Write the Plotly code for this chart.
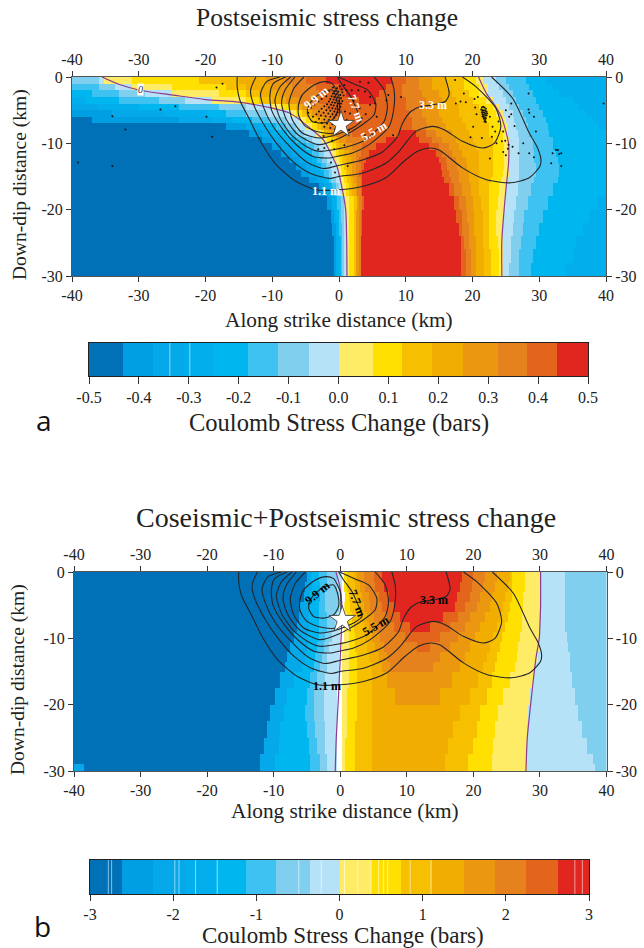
import numpy as np
import plotly.graph_objects as go

W, H = 644, 948
SERIF = "Liberation Serif"

BAND_COLORS = ["#0071b7", "#009fe3", "#05a8e8", "#02aeeb", "#00b6ef", "#3dc2f2", "#80cfef", "#b5e2f7",
               "#ffec66", "#ffe000", "#f6bf00", "#f1ad00", "#eb970f", "#e6821e", "#e3641b", "#e1261f"]
CBAR_A_EDGES = [-0.5, -0.431, -0.371, -0.31, -0.25, -0.181, -0.121, -0.06, 0.0, 0.07, 0.128, 0.188, 0.25, 0.32, 0.378, 0.438, 0.5]
CBAR_B_EDGES = [-3, -2.62, -2.245, -1.86, -1.48, -1.12, -0.76, -0.36, 0, 0.38, 0.745, 1.115, 1.5, 1.875, 2.245, 2.63, 3]
CBAR_A_TICKS = [-0.5, -0.4, -0.3, -0.2, -0.1, 0.0, 0.1, 0.2, 0.3, 0.4, 0.5]
CBAR_A_LABELS = ["-0.5", "-0.4", "-0.3", "-0.2", "-0.1", "0.0", "0.1", "0.2", "0.3", "0.4", "0.5"]
CBAR_B_TICKS = [-3, -2, -1, 0, 1, 2, 3]
CBAR_B_LABELS = ["-3", "-2", "-1", "0", "1", "2", "3"]
CBAR_A_STREAKS = [-0.338, -0.298]
CBAR_B_STREAKS = [-2.78, -2.74, -1.98, -1.93, -1.73, -1.47, -0.49, -0.22, 0.06, 0.22, 0.38, 0.47, 0.53, 0.58, 0.85, 1.1, 2.83, 2.92]
X_TICKS = [-40, -30, -20, -10, 0, 10, 20, 30, 40]
X_LABELS = ["-40", "-30", "-20", "-10", "0", "10", "20", "30", "40"]
Y_TICKS = [0, 10, 20, 30]
Y_LABELS = ["0", "-10", "-20", "-30"]

# Panel a: depth rows; every row is band, x where it ends, next band, ...
A_DEPTH_EDGES = [0, 1, 2, 3, 4, 5, 6, 7, 8, 9, 10, 11, 12, 13, 14, 15, 16, 18, 20, 22, 24, 26, 28, 30]
A_ROWS = [
    [6,-36,7,-35.3,8,-31,9,-21,10,-15,11,-11,12,-8,13,-5,14,-2,15,8,14,10,13,12,12,14,11,16,10,18.7,9,20.6,8,21.6,7,23.4,6,25,5,28,4,31,3],
    [5,-36,6,-33.5,7,-31,8,-25,9,-17,10,-14,11,-10,12,-7,13,-3.5,14,0,15,7,14,9.5,13,12,12,14,11,16.3,10,18.8,9,21,8,22.2,7,24,6,25.5,5,28.5,4,32,3],
    [4,-37,5,-33,6,-29,7,-25,8,-18,9,-14,10,-12,11,-9,12,-7,13,-3,14,1,15,6,14,9.5,13,12.5,12,15,11,17,10,19.5,9,21,8,22.3,7,24.5,6,26,5,29,4,33,3],
    [3,-38,4,-33,5,-27,6,-23,7,-19,8,-14,9,-12,10,-10,11,-8,12,-6,13,-3,14,3,15,5.5,14,10,13,13,12,15.5,11,17.5,10,20,9,22,8,23,7,25,6,26.5,5,29.5,4,35,3],
    [2,-36,3,-30,4,-24,5,-18,6,-14,7,-10,8,-8.5,9,-7.5,10,-6.5,11,-5.5,12,-4.5,13,-2,14,10,13,12.5,12,15,11,18,10,21,9,23,8,24,7,25.5,6,27,5,30,4,36,3],
    [1,-34,2,-26,3,-20,4,-17,5,-14,6,-11,7,-7.5,8,-6.5,9,-5.5,10,-4.8,11,-4,12,-3.2,13,-1,14,10.5,13,12.5,12,15,11,18,10,21.5,9,23.5,8,24.5,7,26,6,27.5,5,30.5,4,37,3],
    [0,-37,1,-24,2,-19,3,-16,4,-13,5,-10.5,6,-8,7,-6,8,-5,9,-4.2,10,-3.5,11,-2.8,12,-2,13,0,14,11,13,13,12,15.5,11,18.5,10,22,9,24,8,25,7,26.3,6,28,5,31,4,38,3],
    [0,-17,1,-14,2,-12,3,-11,4,-9.5,5,-8,6,-6.5,7,-5,8,-4,9,-3.3,10,-2.8,11,-2.2,12,-1.5,13,0.5,14,11,13,13.3,12,16,11,19,10,22.5,9,24.2,8,25.2,7,26.6,6,28.3,5,31.3,4,39,3],
    [0,-13.5,1,-11.5,2,-10,3,-9,4,-7.8,5,-6.5,6,-5.2,7,-3.5,8,-2.7,9,-2.2,10,-1.7,11,-1.2,12,-0.5,13,2,14,9,15,11.5,14,13,13,14.5,12,17,11,19.5,10,22.5,9,24.4,8,25.3,7,26.8,6,28.6,5,31.6,4],
    [0,-11.5,1,-10,2,-8.7,3,-7.7,4,-6.5,5,-5,6,-4,7,-2.5,8,-1.7,9,-1.2,10,-0.6,11,0,12,1,13,4,14,7,15,12,14,14,13,15.5,12,17.5,11,20,10,23,9,24.6,8,25.4,7,27,6,29,5,32,4],
    [0,-10,1,-8.5,2,-7.3,3,-6,4,-5,5,-3.8,6,-3,7,-1.7,8,-1,9,-0.5,10,0,11,0.8,12,2,13,3.5,14,5.5,15,13.5,14,15,13,16.5,12,18,11,20.5,10,23,9,24.7,8,25.4,7,27,6,29,5,32,4],
    [0,-8.7,1,-7,2,-6,3,-5,4,-4,5,-3,6,-2.2,7,-1.2,8,-0.5,9,0,10,0.7,11,1.5,12,2.5,13,3.3,14,4.6,15,14.5,14,15.5,13,17,12,18.5,11,21,10,23,9,24.8,8,25.5,7,27,6,29.3,5,32.5,4],
    [0,-7.5,1,-6,2,-5,3,-4,4,-3.3,5,-2.5,6,-1.7,7,-0.8,8,0,9,0.5,10,1,11,1.8,12,2.5,13,3,14,4,15,15,14,16,13,17.5,12,19,11,21,10,23,9,24.8,8,25.5,7,27,6,29.3,5,32.7,4],
    [0,-6.5,1,-5,2,-4.2,3,-3.5,4,-2.7,5,-2,6,-1.2,7,-0.3,8,0.2,9,0.8,10,1.3,11,2,12,2.6,13,3.2,14,3.8,15,15.3,14,16.3,13,17.8,12,19.3,11,21,10,23,9,24.8,8,25.5,7,27,6,29.6,5,33,4],
    [0,-5.7,1,-4.4,2,-3.4,3,-2.8,4,-2.2,5,-1.6,6,-0.9,7,0,8,0.5,9,1,10,1.5,11,2.1,12,2.6,13,3.1,14,3.6,15,15.5,14,16.5,13,17.9,12,19.4,11,21,10,22.9,9,24.5,8,25.4,7,27,6,29.6,5,33,4],
    [0,-4.5,1,-3.3,2,-2.5,3,-2,4,-1.6,5,-1.2,6,-0.5,7,0.3,8,0.7,9,1.2,10,1.7,11,2.2,12,2.7,13,3.2,14,3.6,15,15.8,14,16.8,13,18,12,19.5,11,21,10,22.8,9,24.3,8,25.3,7,27,6,29.3,5,32.7,4],
    [0,-3,1,-2.2,2,-1.6,3,-1.2,4,-0.9,5,-0.5,6,0,7,0.5,8,1,9,1.5,10,2,11,2.4,12,2.8,13,3.2,14,3.6,15,16.5,14,17.3,13,18.5,12,19.8,11,21,10,22.5,9,24,8,25,7,26.8,6,28.8,5,32,4,40,3],
    [0,-1.7,1,-1.1,3,-0.6,4,-0.2,5,0.2,6,0.7,7,1,8,1.5,9,2.3,10,2.7,12,3.1,13,3.4,14,3.7,15,17.2,14,18,13,19,12,20,11,21.3,10,22.6,9,23.7,8,25,7,26.5,6,28.2,5,31.2,4,38.8,3],
    [0,-1.3,1,-0.8,3,-0.4,4,0,5,0.3,6,0.7,7,1.05,8,1.5,9,2.2,10,2.6,12,3,13,3.3,14,3.6,15,17.6,14,18.4,13,19.2,12,20.2,11,21.4,10,22.5,9,23.5,8,24.8,7,26.3,6,27.8,5,30.5,4,37.5,3],
    [0,-1,1,-0.6,3,-0.2,4,0.1,5,0.4,6,0.8,7,1.1,8,1.5,9,2.2,10,2.5,12,2.9,13,3.2,14,3.4,15,18,14,18.6,13,19.4,12,20.3,11,21.5,10,22.5,9,23.6,8,24.5,7,26,6,27.5,5,30,4,36.5,3],
    [0,-0.8,1,-0.5,3,-0.1,4,0.2,5,0.4,6,0.8,7,1.15,8,1.6,9,2.3,10,2.5,12,2.9,13,3.2,14,3.3,15,18.2,14,18.8,13,19.6,12,20.4,11,21.6,10,22.6,9,23.8,8,24.4,7,25.8,6,27.2,5,29.5,4,35.5,3],
    [0,-0.75,1,-0.4,3,0,4,0.2,5,0.5,6,0.8,7,1.2,8,1.6,9,2.3,10,2.5,12,2.9,13,3.2,14,3.3,15,18.3,14,19,13,19.7,12,20.5,11,21.7,10,22.7,9,23.9,8,24.4,7,25.7,6,27.1,5,29,4,35,3],
    [0,-0.7,1,-0.4,3,0,4,0.2,5,0.5,6,0.8,7,1.2,8,1.6,9,2.3,10,2.5,12,2.9,13,3.2,14,3.3,15,18.3,14,19,13,19.7,12,20.6,11,21.8,10,22.8,9,24,8,24.4,7,25.6,6,27,5,28.7,4,34,3],
]

# Panel b: for each depth row, the x where a band begins and where it ends (None: band absent)
B_DEPTH_EDGES = [0, 1.5, 3, 4.5, 6, 7.5, 9, 10.5, 12, 13.5, 15, 17.5, 20, 22.5, 25, 27.5, 29, 30]
B_L2 = [-4.9,-5.2,-5.6,-6,-6.3,-6.6,-7,-7.5,-7.9,-8.2,-9,-9.8,-10.4,-10.9,-11.4,-12,-12]
B_L4 = [-4.2,-4.3,-4.5,-4.6,-4.7,-4.8,-4.9,-5,-5.3,-5.7,-7,-8,-8.5,-9,-9.3,-9.7,-9.7]
B_L5 = [-3.3,-3.1,-3,-3.2,-3.2,-3.2,-3.3,-3.5,-3.7,-3.9,-4.5,-5,-5.3,-5,-4.8,-4.6,-4.6]
B_L6 = [-1.9,-2,-2.2,-2.2,-2,-2,-2.3,-2.5,-2.7,-3,-3.5,-4,-4,-3.7,-3.4,-3.1,-3.1]
B_L7 = [-.6,-.4,-.2,-.2,-.5,-.8,-1.2,-1.7,-2,-2,-2.2,-2.4,-2.4,-2.3,-2.2,-2.1,-2.1]
B_R7 = [33.75,33.75,33.75,33.75,33.75,33.75,34,34.25,34.4,34.5,34.7,35.3,35.8,36.3,37,38,38.3]
B_WHITE = [.3,.3,.3,.2,.1,0,-.1,-.1,-.2,-.2,-.3,-.4,-.4,-.4,-.4,-.4,-.4]
B_L8 = [.7,.7,.7,.6,.5,.4,.4,.35,.3,.3,.3,.25,.25,.25,.25,.25,.25]
B_R8 = [30.1,30.1,30.1,30.1,30,30,30,30,29.8,29.3,28.9,28.6,28.3,28.1,28,27.9,27.9]
B_L9 = [.5,.6,.7,.8,.9,1,1.2,1.3,1.3,1.3,1.2,1.1,1,.9,.8,.75,.75]
B_R9 = [27.8,27.7,27.6,27.5,27.3,27.2,27,26.8,26.6,26.3,25.5,24.5,23.7,23.3,23,22.7,22.7]
B_L10 = [1,1.1,1.3,1.5,1.7,1.9,2.2,2.3,2.4,2.5,2.5,2.4,2.4,2.3,2.3,2.25,2.25]
B_R10 = [25.7,25.8,25.7,25.5,25.2,24.8,24.3,24,23.6,23.2,22.8,22,21,20.5,20,19.3,19.3]
B_L11 = [2,2.2,2.5,2.8,3.1,3.4,3.7,4,4.3,4.7,4.75,4.75,4.75,4.75,4.75,4.75,4.75]
B_R11 = [25.5,25.2,24.8,24.4,24,23.5,23,22.5,22,21.5,20.8,19.5,18,17,16.3,15.8,15.8]
B_L12 = [2.5,3,3.3,3.6,4,4.3,4.7,5.2,5.7,6.2,7,8.2,None,None,None,None,None]
B_R12 = [23.5,23.2,22.8,22.4,21.8,21,20.3,19.5,18.8,18,16.8,15,None,None,None,None,None]
B_L13 = [3.5,3.8,4.2,4.6,5,5.5,6,6.5,7,7.5,None,None,None,None,None,None,None]
B_R13 = [21.7,21.4,21,20.5,19.5,18.7,17.8,16.5,15,14,None,None,None,None,None,None,None]
B_L14 = [5,5.2,5.7,6.3,7,8,9.7,11.5,None,None,None,None,None,None,None,None,None]
B_R14 = [20,19.8,19.4,18.8,17.8,16.5,15,13.5,None,None,None,None,None,None,None,None,None]
B_L15 = [6.2,6.5,7.3,8,9,10.5,None,None,None,None,None,None,None,None,None,None,None]
B_R15 = [18.2,17.9,17.6,17.2,15.5,13.5,None,None,None,None,None,None,None,None,None,None,None]
B_CORNER_X = -38.5

# Zero-stress contours (x km, depth km)
ZERO_A1 = [(-35.5,0),(-33,1.1),(-29.8,2),(-25,2.7),(-20,3.4),(-15,3.8),(-10,4.7),(-7.5,5.4),(-5.8,6.5),(-4,8),(-2.3,9.5),(-1,12),(-0.3,13.5),(0.4,16.5),(1,20),(1.15,24.6),(1.2,30)]
ZERO_A2 = [(20.9,0),(22.1,2.5),(23.5,4.5),(24.4,6.2),(25.4,10),(25.4,13),(25,17),(24.4,24.6),(24.4,30)]
ZERO_B1 = [(-0.65,0),(-0.1,2),(0.25,5),(0.2,8),(0,13),(-0.25,18.5),(-0.6,25),(-0.75,30)]
ZERO_B2 = [(30.1,0),(30.1,5),(30,8),(29.9,10),(29.4,13),(28.6,20),(28.1,25),(27.9,30)]

# Slip contours (x km, depth km)
SLIP_11 = [(-15.25,0),(-15.25,1.5),(-14.85,3.5),(-13.35,6.5),(-11.6,10),(-9.35,13.3),(-6.35,15.8),(-3.35,17),(0,17),(3.5,16.5),(7,15.2),(9.75,12.7),(11.75,11.2),(13.5,10.7),(15,11),(18.5,13.7),(22,15.45),(25.75,15.95),(28.5,15.2),(30.1,13.45),(30.25,12.45),(29.75,10.7),(28.5,8.45),(26,3.2),(22.85,0)]
SLIP_22 = [(-12.45,0),(-13.25,2),(-12.85,4),(-11.35,7),(-9.35,10),(-6.85,12.8),(-4.35,14.5),(-1.35,15.3),(0,15),(3.5,14.5),(7,13),(9,11.2),(11.5,8.2),(14,7.45),(15.75,7.95),(18.5,9.7),(21.5,10.7),(23.25,10),(24.25,7.45),(23.5,4.7),(20.5,1.45),(18.5,0)]
SLIP_33 = [(-8.85,0),(-10.85,0.7),(-11.75,2.5),(-11.25,4.7),(-9.85,7.5),(-7.35,10.5),(-4.85,12.8),(-2.35,13.8),(0,13.3),(3.5,12.5),(6.5,11.3),(8.75,9),(9.5,7),(10.75,5.2),(12.15,4.5),(14,4.2),(15.9,3.7),(16.5,2.6),(15.9,0)]
SLIP_44 = [(-8,0),(-9.85,1),(-10.35,2.7),(-10.1,5),(-8.35,8),(-6.35,10.25),(-3.85,12),(-1.35,12.2),(0,11.9),(2,11.45),(4.5,10.2),(7.5,7.45),(8.25,4.45),(8.25,1.95),(7.75,0)]
SLIP_55 = [(-7.25,0),(-8.85,1.5),(-9.6,3.5),(-8.85,6.2),(-7.1,8.75),(-4.85,10.5),(-3,11.2),(0,10.8),(1.5,10.45),(4,9.45),(6.75,6.7),(7.25,4.45),(6.75,1.95),(5.25,0)]
SLIP_66 = [(-6.6,0),(-8.1,2),(-8.6,4),(-7.85,6.5),(-6.1,8.75),(-3,10.2),(0,9.25),(1.5,8.45),(3.5,7.2),(5.25,5.7),(5.5,3.95),(4.25,1.95),(2,0.95),(-0.1,0)]
SLIP_77 = [(-5.25,0),(-6.75,1.7),(-7.5,3.95),(-7,6.45),(-5.5,8.45),(-3,9.2),(0,8.55),(2,7.7),(3.25,6.7),(2.6,4.8),(1.75,2.95),(0.5,1.2),(-0.25,0)]
SLIP_88 = [(-2.25,0.7),(-3.75,1.2),(-5.5,2.7),(-6.1,4.45),(-6,5.95),(-5,7.45),(-3,8.3),(-0.75,8.45),(0,7.5),(0.1,5),(0,3),(-1,1),(-2.25,0.7)]
SLIP_99 = [(-2.25,2.2),(-1,1.95),(-0.35,3.45),(-0.25,5.2),(-1,6.45),(-2.5,6.95),(-4,6.7),(-4.75,5.45),(-4.5,4.2),(-3.5,3),(-2.25,2.2)]
SLIP_TEXT = ["9.9 m", "7.7 m", "5.5 m", "3.3 m", "1.1 m"]
SLIP_TEXT_X = [-3.5, 2.5, 5.3, 14.1, -2.0]
SLIP_TEXT_Y = [3.1, 4.7, 8.2, 4.2, 17.2]
SLIP_TEXT_ANGLE = [-40, 70, -30, 0, 0]

# Aftershocks (x km, depth km)
SHOCKS_FAR = [(-39.1,12.9),(-33.95,13.4),(-33.95,5.9),(-32,7.9),(-26.75,4.9),(-24.5,4.4),(-19.85,6),(-19,9),(-18.35,1.6),(-17.45,1),
    (17.4,.45),(18.7,2.5),(17.5,4),(18.2,3.7),(19,3.8),(20.3,3.3),(20.8,3),(20.4,4.6),(20.6,5.6),(20.1,7.5),(19.7,9.1),(21.4,9.2),(22.6,12.3),(22.9,9),(22.6,6),(23.9,6.7),(23,7.5),(23.4,8.2),(24.6,8.2),(23.6,10),(24.4,9.7),(24.9,9.6),(25.4,10.2),(25.3,10.8),(24.6,11.3),(25,11.8),(26,10.5),(26.9,11.5),(27.6,10),(28.5,11.5),(29.2,12.1),(28.4,2.5),(25,5),(25.8,4),(25.8,5.6),(25.5,6),(26.3,7.4),(28.4,4.9),(28.5,5.4),(29.2,6),(29.5,8.2),(31.8,13),(32,11.5),(32.5,11),(32.8,11),(33.3,11.5),(33,11.6),(33.3,13.4),(39.65,4)]
SHOCKS_RIGHT_CLUSTER = [(21.4,4.6),(21.6,4.5),(21.8,4.6),(22,4.8),(21.3,4.9),(21.5,5),(21.7,5),(21.9,5.1),(22.1,5.2),(21.4,5.3),(21.6,5.3),(21.8,5.4),(22,5.5),(21.5,5.6),(21.7,5.7),(21.9,5.8),(22.1,5.8),(21.6,6),(21.8,6.1),(22,6.2),(21.7,6.3),(21.9,6.5),(21.8,6.7),(22,6.8),(21.5,5.9),(22.2,5.5)]
SHOCKS_CENTER = [(0.1,1.4),(-0.3,1.7),(0.4,1.9),(-0.6,2.1),(-0.1,2.2),(0.5,2.3),(-0.9,2.5),(-0.4,2.6),(0.2,2.7),(0.7,2.8),(-1.1,2.9),(-0.7,3),(-0.2,3.1),(0.3,3.2),(-1.3,3.3),(-0.8,3.4),(-0.4,3.5),(0,3.6),(0.5,3.6),(-1.5,3.7),(-1,3.8),(-0.6,3.9),(-0.1,4),(0.3,4),(-1.8,4.1),(-1.2,4.2),(-0.8,4.3),(-0.3,4.4),(0.2,4.5),(-2.2,4.4),(-1.5,4.6),(-1,4.7),(-0.5,4.8),(0,4.9),(-2.6,4.8),(-1.9,5),(-1.3,5.1),(-0.7,5.2),(-0.2,5.3),(-3,5.2),(-2.3,5.4),(-1.6,5.5),(-1,5.6),(-0.4,5.7),(-3.4,5.6),(-2.7,5.8),(-2,5.9),(-1.3,6),(-0.7,6.1),(-3,6.3),(-2.2,6.4),(-1.5,6.5),(-0.8,6.6),(-3.5,6.8),(-2.6,6.9),(-1.8,7),(-1,7.1),(-2.2,7.5),(-1.3,7.7),(-0.6,7.9),(-4.2,4.6),(-4.6,5.4),(-3.9,6),(-3.7,4.2),(-3.1,3.7),(-2.6,3.3),(-1.9,2.9),(-1.5,2.2),(-0.9,1.6),(0.8,1.2),(1.1,2),
    (3.15,.7),(4.4,.85),(2.9,2),(1.9,2),(3.9,2.2),(4.65,3),(5.4,4),(4.65,4.2),(5.65,6),(1.65,5.5),(0.9,5.2),(1.15,6.5),(7.4,2.7),(7.1,3.5),(9.3,3),(3.1,4.7),(2.2,3.6),(4,5.6),(3.4,6.2),(1.5,8),(3.9,8.8),(8.1,8.8),(-2.2,10.7),(-1.2,12.9),(-0.6,14.4),(1.3,13.4),(-3.1,10.9),(-2.3,8.9),(-1,9.6),(0.8,10.3),(-0.7,10.9)]
STAR_X = [0.3]
STAR_Y = [7.2]

XCELLS = np.arange(-40, 40.01, 0.25)
XMID = (XCELLS[:-1] + XCELLS[1:]) / 2


def decode_a():
    z = np.zeros((len(A_ROWS), len(XMID)))
    for r, row in enumerate(A_ROWS):
        bands, ends = row[0::2], row[1::2] + [40.01]
        start = -40.01
        for band, end in zip(bands, ends):
            z[r, (XMID >= start) & (XMID < end)] = band
            start = end
    return z


def decode_b():
    z = np.zeros((len(B_L2), len(XMID)))
    full = [40.01] * len(B_L2)
    layers = [(2, B_L2, full), (4, B_L4, full), (5, B_L5, full), (6, B_L6, full), (7, B_L7, B_R7),
              (-1, B_WHITE, B_L8), (8, B_L8, B_R8), (9, B_L9, B_R9), (10, B_L10, B_R10), (11, B_L11, B_R11),
              (12, B_L12, B_R12), (13, B_L13, B_R13), (14, B_L14, B_R14), (15, B_L15, B_R15)]
    for band, lefts, rights in layers:
        for r, (a, b) in enumerate(zip(lefts, rights)):
            if a is None:
                continue
            z[r, (XMID >= a) & (XMID < b)] = band
    z[-1, XMID < B_CORNER_X] = 2
    z[z == -1] = np.nan
    return z


n = len(BAND_COLORS)
colorscale = []
for i, c in enumerate(BAND_COLORS):
    colorscale += [[i / n, c], [(i + 1) / n, c]]

heat = dict(colorscale=colorscale, zmin=-0.5, zmax=15.5, showscale=False, hoverinfo="skip")
fig = go.Figure()
fig.add_trace(go.Heatmap(x=XCELLS, y=A_DEPTH_EDGES, z=decode_a(), xaxis="x", yaxis="y", **heat))
fig.add_trace(go.Heatmap(x=XCELLS, y=B_DEPTH_EDGES, z=decode_b(), xaxis="x3", yaxis="y3", **heat))


def add_line(points, xa, ya, color, width, spline=True):
    fig.add_trace(go.Scatter(x=[p[0] for p in points], y=[p[1] for p in points], xaxis=xa, yaxis=ya,
                             mode="lines", hoverinfo="skip", showlegend=False,
                             line=dict(color=color, width=width, shape="spline" if spline else "linear", smoothing=0.7)))


for xa, ya, zeros in (("x", "y", (ZERO_A1, ZERO_A2)), ("x3", "y3", (ZERO_B1, ZERO_B2))):
    for z in zeros:
        add_line(z, xa, ya, "#8e3a8e", 1.2)
    for s in (SLIP_11, SLIP_22, SLIP_33, SLIP_44, SLIP_55, SLIP_66, SLIP_77, SLIP_88, SLIP_99):
        add_line(s, xa, ya, "#23262b", 1.1)

shocks = SHOCKS_FAR + SHOCKS_RIGHT_CLUSTER + SHOCKS_CENTER
fig.add_trace(go.Scatter(x=[p[0] for p in shocks], y=[p[1] for p in shocks], xaxis="x", yaxis="y", mode="markers",
                         marker=dict(color="#111", size=2), hoverinfo="skip", showlegend=False))
# The stars sit on the overlay axes, which also draws the top and right axes
for xa, ya in (("x2", "y2"), ("x4", "y4")):
    fig.add_trace(go.Scatter(x=STAR_X, y=STAR_Y, xaxis=xa, yaxis=ya, mode="markers", hoverinfo="skip", showlegend=False,
                             marker=dict(symbol="star", size=20, color="white", line=dict(width=0.8, color="#333"))))

for edges, xa, ya in ((CBAR_A_EDGES, "x5", "y5"), (CBAR_B_EDGES, "x6", "y6")):
    fig.add_trace(go.Heatmap(x=edges, y=[0, 1], z=[list(range(n))], xaxis=xa, yaxis=ya, **heat))
for streaks, xa, ya in ((CBAR_A_STREAKS, "x5", "y5"), (CBAR_B_STREAKS, "x6", "y6")):
    for s in streaks:
        add_line([(s, 0), (s, 1)], xa, ya, "rgba(255,255,255,0.55)", 1, spline=False)


def dx(a, b):
    return [a / W, b / W]


def dy(top, bottom):
    return [1 - bottom / H, 1 - top / H]


tick = dict(ticks="outside", ticklen=5, tickwidth=1, tickcolor="#333", showline=True, linecolor="#555", linewidth=1,
            showgrid=False, zeroline=False, automargin=False, tickfont=dict(family=SERIF, size=16, color="#222"))
xax = dict(tick, tickvals=X_TICKS, ticktext=X_LABELS, range=[-40, 40])
yax = dict(tick, tickvals=Y_TICKS, ticktext=Y_LABELS, range=[30, 0])
bar_y = dict(range=[0, 1], showticklabels=False, ticks="", showgrid=False, zeroline=False, showline=True, mirror=True,
             linecolor="#222", automargin=False)
fig.update_layout(
    width=W, height=H, margin=dict(l=0, r=0, t=0, b=0, autoexpand=False), paper_bgcolor="white", plot_bgcolor="white", showlegend=False,
    xaxis=dict(xax, domain=dx(72, 606), anchor="y"),
    yaxis=dict(yax, domain=dy(77, 276), anchor="x"),
    xaxis2=dict(xax, overlaying="x", side="top", anchor="y"),
    yaxis2=dict(yax, overlaying="y", side="right", anchor="x"),
    xaxis3=dict(xax, domain=dx(74, 606.5), anchor="y3"),
    yaxis3=dict(yax, domain=dy(572, 771), anchor="x3"),
    xaxis4=dict(xax, overlaying="x3", side="top", anchor="y3"),
    yaxis4=dict(yax, overlaying="y3", side="right", anchor="x3"),
    xaxis5=dict(tick, domain=dx(89, 588), anchor="y5", range=[-0.5, 0.5], tickvals=CBAR_A_TICKS, ticktext=CBAR_A_LABELS, ticklen=7, mirror=True, linecolor="#222"),
    yaxis5=dict(bar_y, domain=dy(343, 376), anchor="x5"),
    xaxis6=dict(tick, domain=dx(90, 589), anchor="y6", range=[-3, 3], tickvals=CBAR_B_TICKS, ticktext=CBAR_B_LABELS, ticklen=6, mirror=True, linecolor="#222"),
    yaxis6=dict(bar_y, domain=dy(860, 894), anchor="x6"),
)


def note(text, px, py, size, angle=0, family=SERIF, color="#222"):
    fig.add_annotation(text=text, x=px / W, y=1 - py / H, xref="paper", yref="paper",
                       xanchor="center", yanchor="middle", showarrow=False, textangle=angle,
                       font=dict(family=family, size=size, color=color))


note("Postseismic stress change", 327, 18, 25.5)
note("Coseismic+Postseismic stress change", 346, 517, 28)
note("Along strike distance (km)", 339, 320, 21.3)
note("Along strike distance (km)", 345, 810.5, 21.3)
note("Down-dip distance (km)", 20, 185, 19.5, -90)
note("Down-dip distance (km)", 18, 680, 19.5, -90)
note("Coulomb Stress Change (bars)", 339, 423, 24.5)
note("Coulomb Stress Change (bars)", 343, 935, 23)
note("a", 44, 420, 28, family="Open Sans", color="#111")
note("b", 42, 926, 28, family="Open Sans", color="#111")

for xa, ya, col in (("x", "y", "white"), ("x3", "y3", "black")):
    for t, tx, ty, ang in zip(SLIP_TEXT, SLIP_TEXT_X, SLIP_TEXT_Y, SLIP_TEXT_ANGLE):
        fig.add_annotation(text="<b>%s</b>" % t, x=tx, y=ty, xref=xa, yref=ya, showarrow=False, textangle=ang,
                           font=dict(family=SERIF, size=12, color=col))
fig.add_annotation(text="<i>0</i>", x=-29.8, y=1.9, xref="x", yref="y", showarrow=False, bgcolor="white", borderpad=0,
                   font=dict(family=SERIF, size=10, color="#333"))

fig.write_html("out.html", config={"displayModeBar": False}, post_script="document.body.style.margin='0';")
